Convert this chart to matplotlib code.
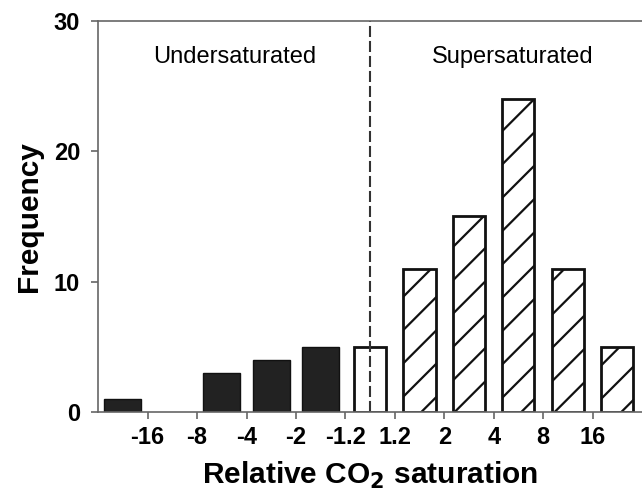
import matplotlib.pyplot as plt
import numpy as np

plt.rcParams["font.family"] = ["Liberation Sans", "DejaVu Sans"]

# bins of relative CO2 saturation (one slot per bin, second slot is empty)
counts = [1, 0, 3, 4, 5, 5, 11, 15, 24, 11, 5]
kinds = ["under", "under", "under", "under", "under", "mixed",
         "super", "super", "super", "super", "super"]
tick_labels = ["-16", "-8", "-4", "-2", "-1.2", "1.2", "2", "4", "8", "16"]
region_labels = ["Undersaturated", "Supersaturated"]

fig = plt.figure(figsize=(6.42, 4.97), dpi=100)
ax = fig.add_axes([0.153, 0.171, 0.847, 0.787])

x = np.arange(len(counts))
plt.rcParams["hatch.linewidth"] = 1.6
for xi, c, k in zip(x, counts, kinds):
    if c == 0:
        continue
    if k == "under":
        ax.bar(xi, c, width=0.75, color="#222222", edgecolor="#111111", linewidth=1)
    elif k == "mixed":
        ax.bar(xi, c, width=0.65, color="white", edgecolor="#111111", linewidth=2)
    else:
        ax.bar(xi, c, width=0.65, color="white", edgecolor="#111111",
               linewidth=2, hatch="/")

ax.plot([5, 5], [0, 30], color="#333333", linestyle=(0, (5.3, 1.9)), linewidth=1.5)

ax.text(2.27, 27.2, region_labels[0], ha="center", va="center", fontsize=17)
ax.text(7.88, 27.2, region_labels[1], ha="center", va="center", fontsize=17)

ax.set_xlim(-0.5, 10.5)
ax.set_ylim(0, 30)
ax.set_xticks(x[:-1] + 0.5)
ax.set_xticklabels(tick_labels, fontsize=17, fontweight="bold")
ax.set_yticks([0, 10, 20, 30])
ax.set_yticklabels(["0", "10", "20", "30"], fontsize=17, fontweight="bold")

for side in ["left", "bottom", "top"]:
    ax.spines[side].set_color("#666666")
    ax.spines[side].set_linewidth(1.2)
ax.spines["right"].set_visible(False)
ax.tick_params(direction="out", length=5, width=1.2, color="#666666", pad=5)
ax.tick_params(axis="y", pad=8)

ax.set_ylabel("Frequency", fontsize=21.5, fontweight="bold", labelpad=8)
ax.set_xlabel("Relative CO$_\\mathbf{2}$ saturation", fontsize=21.5,
              fontweight="bold", labelpad=8)

fig.savefig("out.png", dpi=100)
